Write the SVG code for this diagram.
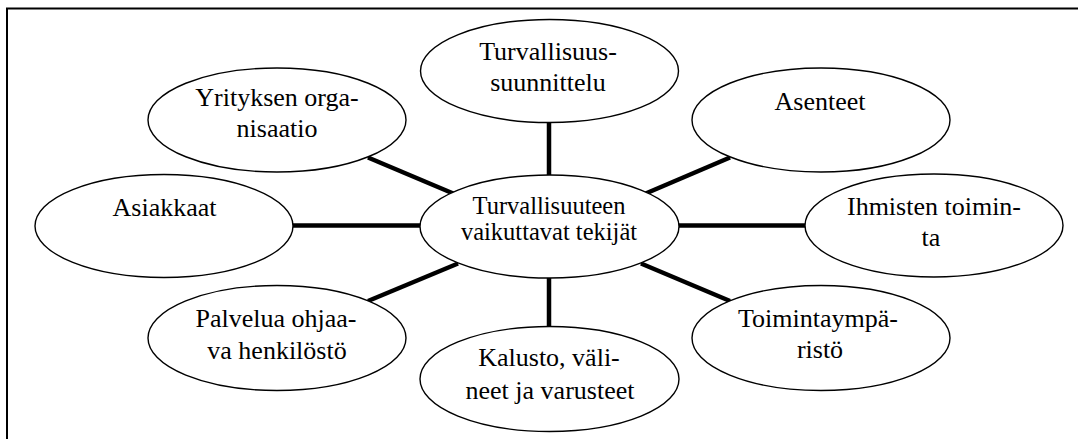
<svg xmlns="http://www.w3.org/2000/svg" width="1078" height="439" viewBox="0 0 1078 439">
<style>
.node ellipse{fill:#fff;stroke:#000;stroke-width:1.4}
.node text{font-family:"Liberation Serif","Times New Roman",Times,"DejaVu Serif",serif;font-size:26px;fill:#000;text-anchor:middle}
#n-center text{font-size:24.5px}
.conn line{stroke:#000;stroke-width:4.5;stroke-linecap:butt}
.frame{stroke:#000;stroke-width:2;fill:none}
</style>
<rect width="1078" height="439" fill="#fff"/>
<path class="frame" d="M7,439 V8.5 H1078"/>
<g class="conn" id="connectors">
<line x1="549" y1="122" x2="549" y2="175.5"/>
<line x1="368" y1="157.5" x2="458" y2="195.5"/>
<line x1="730" y1="157.5" x2="641" y2="195.5"/>
<line x1="292" y1="225.5" x2="421" y2="225.5"/>
<line x1="678" y1="225.5" x2="806" y2="225.5"/>
<line x1="368" y1="301" x2="458" y2="263.5"/>
<line x1="641" y1="263.5" x2="730" y2="301"/>
<line x1="549" y1="277.5" x2="549" y2="327"/>
</g>
<g class="node" id="n-suunnittelu">
<ellipse cx="549.5" cy="71" rx="129" ry="51.5"/>
<text x="548" y="60" font-family="Liberation Serif, serif">Turvallisuus-</text>
<text x="548" y="91" font-family="Liberation Serif, serif">suunnittelu</text>
</g>
<g class="node" id="n-organisaatio">
<ellipse cx="277" cy="120" rx="129" ry="52"/>
<text x="277" y="106" font-family="Liberation Serif, serif">Yrityksen orga-</text>
<text x="277" y="137" font-family="Liberation Serif, serif">nisaatio</text>
</g>
<g class="node" id="n-asenteet">
<ellipse cx="821" cy="120" rx="129" ry="52"/>
<text x="820" y="110" font-family="Liberation Serif, serif">Asenteet</text>
</g>
<g class="node" id="n-asiakkaat">
<ellipse cx="164" cy="226" rx="129" ry="51.5"/>
<text x="164.5" y="216" font-family="Liberation Serif, serif">Asiakkaat</text>
</g>
<g class="node" id="n-center">
<ellipse cx="549.5" cy="226.5" rx="129.5" ry="51.5"/>
<text x="549" y="214" font-family="Liberation Serif, serif">Turvallisuuteen</text>
<text x="549" y="240" font-family="Liberation Serif, serif">vaikuttavat tekijät</text>
</g>
<g class="node" id="n-ihmiset">
<ellipse cx="934" cy="225.5" rx="129" ry="51.5"/>
<text x="934" y="215" font-family="Liberation Serif, serif">Ihmisten toimin-</text>
<text x="931" y="246" font-family="Liberation Serif, serif">ta</text>
</g>
<g class="node" id="n-palvelu">
<ellipse cx="277" cy="338" rx="129" ry="52.5"/>
<text x="276" y="327" font-family="Liberation Serif, serif">Palvelua ohjaa-</text>
<text x="277" y="359" font-family="Liberation Serif, serif">va henkilöstö</text>
</g>
<g class="node" id="n-kalusto">
<ellipse cx="549.5" cy="379" rx="129.5" ry="52.5"/>
<text x="549" y="366" font-family="Liberation Serif, serif">Kalusto, väli-</text>
<text x="550" y="399" font-family="Liberation Serif, serif">neet ja varusteet</text>
</g>
<g class="node" id="n-toimintaymparisto">
<ellipse cx="821" cy="338" rx="129" ry="52.5"/>
<text x="818" y="327" font-family="Liberation Serif, serif">Toimintaympä-</text>
<text x="820" y="358" font-family="Liberation Serif, serif">ristö</text>
</g>
</svg>
